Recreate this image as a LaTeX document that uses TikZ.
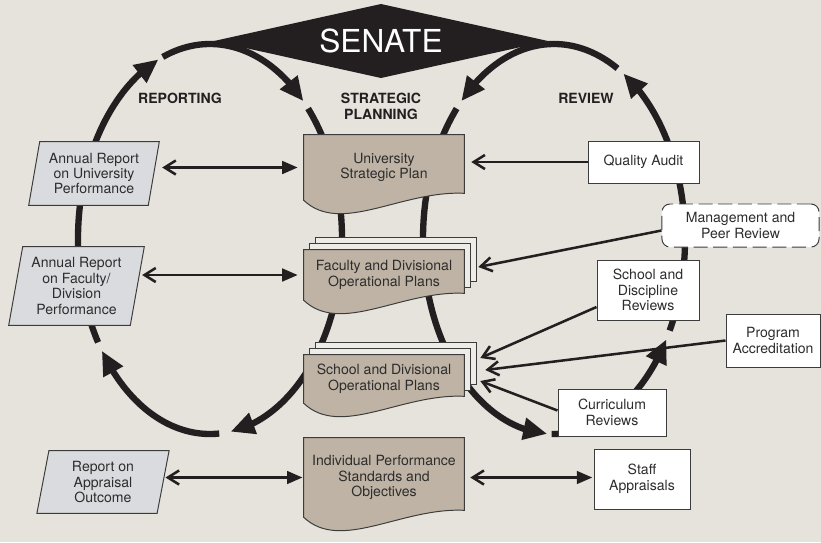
\documentclass[tikz,border=0pt]{standalone}
\usepackage{fontspec}
\setmainfont{TeX Gyre Heros}
\usetikzlibrary{arrows.meta, bending, calc, backgrounds}
\definecolor{paper}{RGB}{230,227,221}
\definecolor{ink}{RGB}{35,31,32}
\definecolor{tan}{RGB}{190,179,164}
\definecolor{report}{RGB}{218,219,222}
\definecolor{sheetcol}{RGB}{238,236,231}
\definecolor{outline}{RGB}{60,60,60}
\definecolor{txt}{RGB}{45,45,45}

% document outline with wavy bottom, round a node
\newcommand{\docshape}[1]{%
  \path[docbox] (#1.north west) -- (#1.north east) -- ($(#1.south east)+(0,-7)$)
    .. controls ($(#1.south east)+(-63,-10)$) and ($(#1.south west)+(37,35)$) .. (#1.south west) -- cycle;}
% two sheets behind a document
\newcommand{\sheets}[1]{%
  \foreach \off in {12,6}
    \path[sheet] ($(#1.north west)+(\off,-\off)$) rectangle ($(#1.south east)+(\off,-7-\off)$);}
% parallelogram round a node, #2 = half the slant
\newcommand{\slantbox}[2]{%
  \path[parabox] ($(#1.south west)+(-#2,0)$) -- ($(#1.south east)+(-#2,0)$)
    -- ($(#1.north east)+(#2,0)$) -- ($(#1.north west)+(#2,0)$) -- cycle;}

\begin{document}
\begin{tikzpicture}[x=0.025cm, y=-0.025cm,
    every node/.style={font=\fontsize{10}{11}\selectfont, text=txt, align=center, inner sep=0pt},
    doc/.style={minimum width=4cm},
    wbox/.style={draw=outline, line width=0.7pt, fill=white},
    docbox/.style={draw=outline, line width=0.7pt, fill=tan},
    sheet/.style={draw=outline, line width=0.7pt, fill=sheetcol},
    parabox/.style={draw=outline, line width=0.7pt, fill=report},
    phase/.style={font=\bfseries\fontsize{10}{11.3}\selectfont, text=ink},
    bigarc/.style={line width=4.5pt, draw=ink, -{Triangle[length=17pt, width=15pt]}},
    feed/.style={line width=1.8pt, draw=ink, -{Straight Barb[length=8pt, width=10pt]}},
    twoway/.style={line width=1.8pt, draw=ink, {Straight Barb[length=8pt, width=10pt]}-{Triangle[length=11pt, width=9pt]}}
  ]
  \useasboundingbox (0,0) rectangle (821,542);

  % strategic planning
  \node[doc, minimum height=1.625cm] (usp) at (384,167.5) {University\\Strategic Plan};
  \node[doc, minimum height=1.25cm] (fac) at (384,275) {Faculty and Divisional\\Operational Plans};
  \node[doc, minimum height=1.2cm] (sch) at (384,379) {School and Divisional\\Operational Plans};
  \node[doc, minimum height=1.975cm] (ind) at (384,477.5) {Individual Performance\\Standards and\\Objectives};

  % reporting
  \node[minimum width=2.975cm, minimum height=1.575cm] (rep1) at (94,173.5) {Annual Report\\on University\\Performance};
  \node[minimum width=3.025cm, minimum height=1.95cm] (rep2) at (76.5,286) {Annual Report\\on Faculty/\\Division\\Performance};
  \node[minimum width=2.99cm, minimum height=1.55cm] (rep3) at (103,482) {Report on\\Appraisal\\Outcome};

  % review
  \node[wbox, minimum width=2.775cm, minimum height=1.05cm] (audit) at (643.5,162) {Quality Audit};
  \node[wbox, dashed, dash pattern=on 10pt off 4pt, rounded corners=0.2cm,
        minimum width=3.925cm, minimum height=1.075cm] (peer) at (740.5,225.5) {Management and\\Peer Review};
  \node[wbox, minimum width=2.55cm, minimum height=1.5cm] (disc) at (648,290) {School and\\Discipline\\Reviews};
  \node[wbox, minimum width=2.35cm, minimum height=1.325cm] (accr) at (773,340.5) {Program\\Accreditation};
  \node[wbox, minimum width=2.7cm, minimum height=1.175cm] (curr) at (612,412.5) {Curriculum\\Reviews};
  \node[wbox, minimum width=2.4cm, minimum height=1.5cm] (appr) at (642,479) {Staff\\Appraisals};

  \node[phase] (lrep) at (180,98) {REPORTING};
  \node[phase] (lplan) at (381,106) {STRATEGIC\\PLANNING};
  \node[phase] (lrev) at (586,98) {REVIEW};
  \node[font=\fontsize{22.5}{27}\selectfont, text=white] (senate) at (381,41) {SENATE};

  \begin{scope}[on background layer]
    \fill[paper] (0,0) rectangle (821,542);
    % reporting cycle
    \foreach \a/\b in {111/45, 42/-81, -86/-145, -148/-247}
      \draw[bigarc] ({210+132*cos(\a)},{239-195*sin(\a)})
        arc[start angle=\a, end angle=\b, x radius=3.3cm, y radius=4.875cm];
    % review cycle
    \foreach \a/\b in {-222/-93, -91/-31, -28/58, 61/135}
      \draw[bigarc] ({554+131*cos(\a)},{239-195*sin(\a)})
        arc[start angle=\a, end angle=\b, x radius=3.275cm, y radius=4.875cm];
    \fill[ink] ($(senate)+(-167,0)$) -- ($(senate)+(0,-37)$) -- ($(senate)+(167,0)$) -- ($(senate)+(0,37)$) -- cycle;
    \sheets{fac}
    \sheets{sch}
    \docshape{usp}
    \docshape{fac}
    \docshape{sch}
    \docshape{ind}
    \slantbox{rep1}{5.5}
    \slantbox{rep2}{7}
    \slantbox{rep3}{6}
  \end{scope}

  \draw[twoway, shorten <=2.1mm, shorten >=1.5mm] (rep1.east |- usp.west) -- (usp.west);
  \draw[twoway, shorten <=1.2mm, shorten >=1.5mm] (rep2.east |- fac.west) -- (fac.west);
  \draw[twoway, shorten <=0.6mm, shorten >=0.3mm] (rep3.east |- ind.west) -- (ind.west);
  \draw[twoway, shorten <=1.5mm, shorten >=0.3mm] (ind.east) -- (ind.east -| appr.west);

  \draw[feed, shorten >=1.75mm] (audit.west) -- (audit.west -| usp.east);
  \draw[feed] ($(peer.west)+(0,5)$) -- ($(fac.east)+(14,-8)$);
  \draw[feed] ($(disc.west)+(0,17)$) -- ($(sch.east)+(16,-21)$);
  \draw[feed] (accr.west) -- ($(sch.east)+(21,-9)$);
  \draw[feed] ($(curr.west)+(0,-2)$) -- ($(sch.east)+(16,2)$);
\end{tikzpicture}
\end{document}
